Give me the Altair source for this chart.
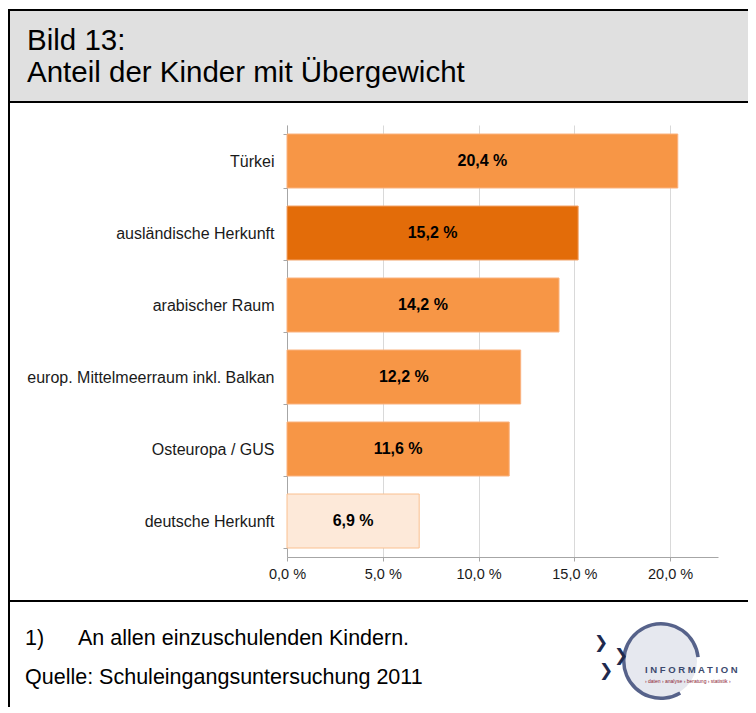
import altair as alt
import pandas as pd

categories = ["Türkei", "ausländische Herkunft", "arabischer Raum",
              "europ. Mittelmeerraum inkl. Balkan", "Osteuropa / GUS", "deutsche Herkunft"]
values = [20.4, 15.2, 14.2, 12.2, 11.6, 6.9]
labels = ["20,4 %", "15,2 %", "14,2 %", "12,2 %", "11,6 %", "6,9 %"]
fills = ["#F79646", "#E36C09", "#F79646", "#F79646", "#F79646", "#FDE9D9"]
strokes = ["#FAB27F", "#F2A36A", "#FAB27F", "#FAB27F", "#FAB27F", "#FAC090"]
x_ticks = [0, 5, 10, 15, 20]

title_lines = ["Bild 13:", "Anteil der Kinder mit Übergewicht"]
foot_note_num = "1)"
foot_note = "An allen einzuschulenden Kindern."
foot_source = "Quelle: Schuleingangsuntersuchung 2011"

df = pd.DataFrame({"cat": categories, "val": values, "label": labels,
                   "fill": fills, "stroke": strokes})

FONT = "Liberation Sans"
W, H = 431, 432
PL, PT = 279, 117  # plot origin on page = (287, 125)

yenc = alt.Y("cat:N", sort=categories,
             scale=alt.Scale(paddingInner=0.25, paddingOuter=0.125),
             axis=alt.Axis(title=None, tickBand="extent", labelFontSize=16, labelFont=FONT,
                           labelColor="#1a1a1a", labelPadding=9, tickSize=4,
                           domainColor="#a6a6a6", tickColor="#a6a6a6", grid=False,
                           labelLimit=320))
xscale = alt.Scale(domain=[0, 22.5], nice=False)

bars = alt.Chart(df).mark_bar(strokeWidth=1).encode(
    y=yenc,
    x=alt.X("val:Q", scale=xscale,
            axis=alt.Axis(values=x_ticks, title=None, labelFlush=False,
                          labelExpr="replace(format(datum.value, '.1f'), '.', ',') + ' %'",
                          grid=True, gridColor="#d9d9d9", domainColor="#a6a6a6",
                          tickColor="#a6a6a6", tickSize=4, labelFontSize=14.5,
                          labelFont=FONT, labelColor="#1a1a1a", labelPadding=6)),
    fill=alt.Fill("fill:N", scale=None),
    stroke=alt.Stroke("stroke:N", scale=None),
)

text = alt.Chart(df).transform_calculate(mid="datum.val / 2").mark_text(
    font=FONT, fontSize=16, fontWeight="bold", color="#000000"
).encode(y=alt.Y("cat:N", sort=categories), x=alt.X("mid:Q", scale=xscale), text="label:N")

one = pd.DataFrame({"a": [0]})
base = alt.Chart(one)


def rect(x1, x2, y1, y2, color):
    return base.mark_rect(color=color).encode(
        x=alt.value(x1 - 287), x2=alt.value(x2 - 287),
        y=alt.value(y1 - 125), y2=alt.value(y2 - 125))


def txt(s, x, y, size, color="#000000", weight="normal", font=FONT, align="left",
        baseline="alphabetic"):
    return base.mark_text(text=s, fontSize=size, color=color, fontWeight=weight,
                          font=font, align=align, baseline=baseline).encode(
        x=alt.value(x - 287), y=alt.value(y - 125))


deco = [
    rect(9, 748, 11, 101, "#e0e0e0"),
    rect(8, 748, 9, 11, "#000000"),
    rect(8, 748, 101, 103, "#000000"),
    rect(8, 748, 600, 602, "#000000"),
    rect(8, 10, 9, 713, "#000000"),
]

titles = [
    txt(title_lines[0], 27, 50, 29.5),
    txt(title_lines[1], 27, 82, 29.5),
    txt(foot_note_num, 25, 645, 21.5),
    txt(foot_note, 78, 645, 21.5),
    txt(foot_source, 25, 684, 21.5),
]

# logo
cx, cy = 661, 661
logo = [
    base.mark_arc(color="#e6e8ef", theta=0, theta2=6.2832, radius=36).encode(
        x=alt.value(cx - 287), y=alt.value(cy - 125)),
    base.mark_arc(color="#56628a", theta=2.6, theta2=7.75, radius=39, radius2=35.5).encode(
        x=alt.value(cx - 287), y=alt.value(cy - 125)),
    txt("❯", 601, 643, 17, "#1f2a4d", "normal", "DejaVu Sans", "center", "middle"),
    txt("❯", 621, 656, 17, "#1f2a4d", "normal", "DejaVu Sans", "center", "middle"),
    txt("❯", 606, 671, 17, "#1f2a4d", "normal", "DejaVu Sans", "center", "middle"),
    txt("I N F O R M A T I O N", 645, 673, 9.5, "#3c4a6e", "bold"),
    txt("› daten › analyse › beratung › statistik ›", 645, 683, 5, "#8b2030"),
]

chart = alt.layer(*deco, bars, text, *titles, *logo).properties(
    width=W, height=H,
    autosize=alt.AutoSizeParams(type="none"),
    padding={"left": PL, "top": PT, "right": 30, "bottom": 150},
).configure_view(stroke=None)

chart.save("out.html", embed_options={"renderer": "svg", "actions": False})
